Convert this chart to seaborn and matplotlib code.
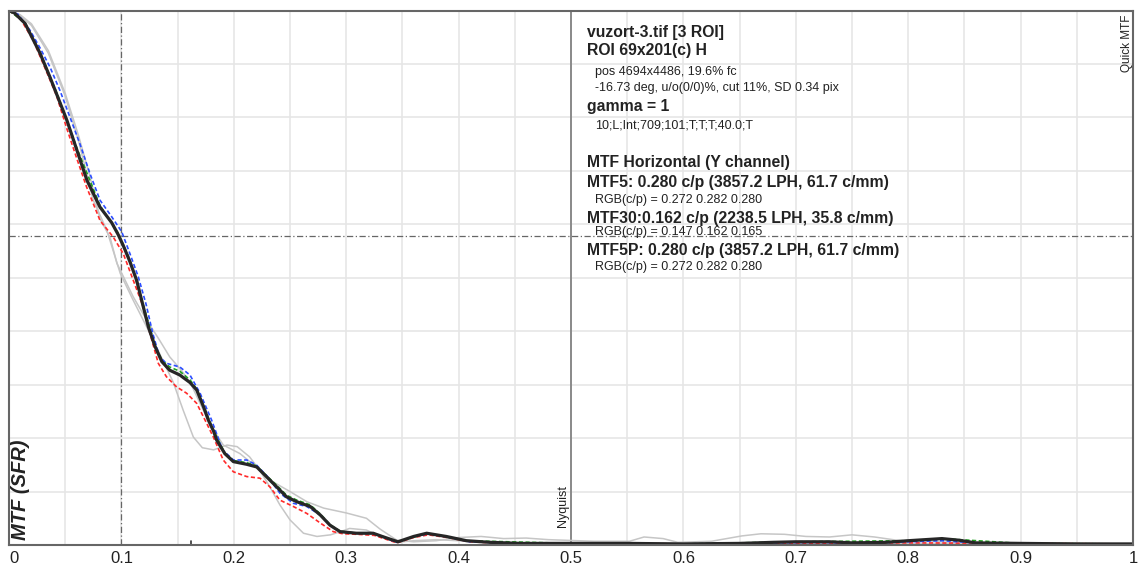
import matplotlib
matplotlib.use("Agg")
import matplotlib.pyplot as plt
from matplotlib.ticker import MultipleLocator
import seaborn as sns

# ---- measured MTF curves (frequency in cycles/pixel) ----
freq_y = [0, 0.005, 0.0142, 0.0276, 0.0365, 0.0436, 0.0516, 0.0605, 0.0694, 0.081, 0.0914,
          0.0973, 0.1017, 0.1076, 0.1136, 0.118, 0.124, 0.130, 0.136, 0.143, 0.152, 0.161,
          0.167, 0.173, 0.1773, 0.182, 0.1848, 0.192, 0.1996, 0.2115, 0.2204, 0.229, 0.238,
          0.247, 0.256, 0.268, 0.277, 0.2856, 0.2945, 0.309, 0.324, 0.332, 0.346, 0.360,
          0.3716, 0.389, 0.407, 0.428, 0.455, 0.5, 0.55, 0.6, 0.65, 0.68, 0.70, 0.73, 0.75,
          0.78, 0.80, 0.815, 0.83, 0.845, 0.86, 0.9, 0.95, 1.0]
mtf_y = [1.0, 0.995, 0.976, 0.920, 0.875, 0.837, 0.794, 0.738, 0.682, 0.632, 0.603,
         0.580, 0.560, 0.530, 0.495, 0.458, 0.408, 0.371, 0.343, 0.327, 0.318, 0.304,
         0.290, 0.259, 0.234, 0.213, 0.196, 0.171, 0.156, 0.151, 0.146, 0.128, 0.109,
         0.090, 0.081, 0.072, 0.056, 0.037, 0.025, 0.022, 0.022, 0.016, 0.006, 0.016,
         0.022, 0.016, 0.008, 0.005, 0.003, 0.003, 0.003, 0.002, 0.003, 0.005, 0.006, 0.006, 0.004,
         0.005, 0.008, 0.010, 0.012, 0.009, 0.004, 0.003, 0.002, 0.002]

freq_r = [0, 0.01, 0.0216, 0.0335, 0.0424, 0.0513, 0.060, 0.069, 0.081, 0.0928, 0.1017,
          0.1106, 0.1195, 0.1254, 0.1328, 0.140, 0.149, 0.158, 0.167, 0.176, 0.1818, 0.1906,
          0.1996, 0.2115, 0.2233, 0.232, 0.241, 0.253, 0.265, 0.277, 0.2885, 0.297, 0.31,
          0.325, 0.345, 0.36, 0.373, 0.39, 0.41, 0.43, 0.46, 0.5, 0.55, 0.6, 0.7, 0.8, 0.9, 1.0]
mtf_r = [1.0, 0.985, 0.944, 0.885, 0.84, 0.78, 0.725, 0.67, 0.607, 0.576, 0.545,
         0.495, 0.445, 0.396, 0.340, 0.315, 0.296, 0.284, 0.265, 0.227, 0.202, 0.159,
         0.137, 0.128, 0.125, 0.109, 0.084, 0.072, 0.059, 0.041, 0.025, 0.021, 0.020,
         0.018, 0.004, 0.014, 0.019, 0.014, 0.006, 0.004, 0.003, 0.004, 0.003, 0.002, 0.003,
         0.004, 0.003, 0.002]

freq_g = [0, 0.0142, 0.0276, 0.0436, 0.0605, 0.081, 0.0973, 0.1076, 0.118, 0.130, 0.136,
          0.143, 0.152, 0.161, 0.167, 0.173, 0.182, 0.192, 0.1996, 0.2115, 0.2204, 0.229,
          0.238, 0.247, 0.256, 0.268, 0.277, 0.2856, 0.2945, 0.309, 0.324, 0.346, 0.3716,
          0.407, 0.5, 0.6, 0.7, 0.8, 0.83, 0.9, 1.0]
mtf_g = [1.0, 0.977, 0.922, 0.840, 0.742, 0.635, 0.583, 0.533, 0.460, 0.373, 0.346,
         0.333, 0.325, 0.309, 0.292, 0.261, 0.214, 0.172, 0.158, 0.154, 0.148, 0.130,
         0.112, 0.093, 0.084, 0.075, 0.058, 0.038, 0.026, 0.022, 0.022, 0.006, 0.022,
         0.008, 0.003, 0.002, 0.006, 0.008, 0.012, 0.003, 0.002]

freq_b = [0, 0.008, 0.0187, 0.0276, 0.0365, 0.0454, 0.0543, 0.063, 0.072, 0.081, 0.0914,
          0.1003, 0.1076, 0.115, 0.122, 0.128, 0.134, 0.140, 0.152, 0.161, 0.170, 0.18, 0.19,
          0.1996, 0.2115, 0.220, 0.23, 0.241, 0.253, 0.265, 0.277, 0.2856, 0.2945, 0.31,
          0.324, 0.345, 0.36, 0.373, 0.39, 0.41, 0.44, 0.47, 0.5, 0.55, 0.6, 0.68, 0.72,
          0.76, 0.8, 0.83, 0.86, 0.9, 1.0]
mtf_b = [1.0, 0.993, 0.963, 0.93, 0.894, 0.850, 0.80, 0.751, 0.695, 0.645, 0.614,
         0.586, 0.545, 0.502, 0.45, 0.395, 0.352, 0.340, 0.333, 0.318, 0.284, 0.235, 0.178,
         0.159, 0.159, 0.150, 0.128, 0.097, 0.078, 0.072, 0.056, 0.037, 0.025, 0.022,
         0.022, 0.005, 0.016, 0.021, 0.015, 0.006, 0.004, 0.003, 0.003, 0.002, 0.002, 0.004,
         0.005, 0.003, 0.006, 0.008, 0.004, 0.002, 0.002]

# other ROIs
freq_roi2 = [0, 0.01, 0.02, 0.035, 0.05, 0.062, 0.075, 0.087, 0.099, 0.11, 0.1225, 0.134,
             0.146, 0.155, 0.164, 0.172, 0.182, 0.194, 0.203, 0.214, 0.223, 0.232, 0.241,
             0.25, 0.262, 0.274, 0.286, 0.295, 0.303, 0.318, 0.33, 0.345, 0.36, 0.38, 0.40,
             0.43, 0.46, 0.5, 0.6, 0.7, 0.8, 0.9, 1.0]
mtf_roi2 = [1.0, 0.99, 0.972, 0.92, 0.84, 0.755, 0.645, 0.589, 0.508, 0.46, 0.408, 0.358,
            0.305, 0.252, 0.202, 0.182, 0.178, 0.187, 0.184, 0.165, 0.14, 0.109, 0.075,
            0.047, 0.022, 0.016, 0.019, 0.025, 0.031, 0.028, 0.016, 0.005, 0.008, 0.01, 0.008,
            0.005, 0.004, 0.003, 0.003, 0.004, 0.003, 0.002, 0.002]

freq_roi3 = [0, 0.01, 0.02, 0.035, 0.05, 0.062, 0.072, 0.081, 0.090, 0.096, 0.1106, 0.1225,
             0.134, 0.143, 0.152, 0.161, 0.17, 0.18, 0.1906, 0.2055, 0.22, 0.235, 0.25, 0.265,
             0.28, 0.30, 0.318, 0.33, 0.345, 0.36, 0.38, 0.40, 0.42, 0.44, 0.46, 0.48, 0.52,
             0.552, 0.565, 0.582, 0.595, 0.625, 0.652, 0.669, 0.69, 0.709, 0.73, 0.75, 0.77,
             0.793, 0.817, 0.85, 0.883, 0.94, 1.0]
mtf_roi3 = [1.0, 0.992, 0.975, 0.925, 0.845, 0.765, 0.69, 0.61, 0.575, 0.527, 0.464, 0.421,
            0.383, 0.352, 0.33, 0.305, 0.265, 0.222, 0.187, 0.171, 0.146, 0.118, 0.100, 0.081,
            0.069, 0.06, 0.05, 0.03, 0.009, 0.006, 0.008, 0.014, 0.016, 0.012, 0.013, 0.01,
            0.007, 0.007, 0.015, 0.012, 0.005, 0.007, 0.017, 0.021, 0.020, 0.016, 0.015, 0.019,
            0.015, 0.008, 0.007, 0.004, 0.003, 0.003, 0.002]

x_tick_values = [0, 0.1, 0.2, 0.3, 0.4, 0.5, 0.6, 0.7, 0.8, 0.9, 1.0]
x_tick_labels = ["0", "0.1", "0.2", "0.3", "0.4", "0.5", "0.6", "0.7", "0.8", "0.9", "1"]

nyquist = 0.5
ref_freq = 0.1
mtf_at_ref = 0.578
mtf30_freq = 0.162

info_lines = [
    ("vuzort-3.tif [3 ROI]", True, 32),
    ("ROI 69x201(c) H", True, 50),
    ("pos 4694x4486, 19.6% fc", False, 72),
    ("-16.73 deg, u/o(0/0)%, cut 11%, SD 0.34 pix", False, 88),
    ("gamma = 1", True, 107),
    ("10;L;Int;709;101;T;T;T;40.0;T", False, 125),
    ("MTF Horizontal (Y channel)", True, 163),
    ("MTF5: 0.280 c/p (3857.2 LPH, 61.7 c/mm)", True, 183),
    ("RGB(c/p) = 0.272 0.282 0.280", False, 200),
    ("MTF30:0.162 c/p (2238.5 LPH, 35.8 c/mm)", True, 218),
    ("RGB(c/p) = 0.147 0.162 0.165", False, 232),
    ("MTF5P: 0.280 c/p (3857.2 LPH, 61.7 c/mm)", True, 250),
    ("RGB(c/p) = 0.272 0.282 0.280", False, 267),
]

sns.set_theme(style="whitegrid")
plt.rcParams["font.family"] = ["Liberation Sans", "DejaVu Sans"]

W, H = 1141, 568
fig = plt.figure(figsize=(W / 100, H / 100), dpi=100)
ax_left, ax_bottom, ax_w, ax_h = 9, 23, 1124, 534.5
ax = fig.add_axes([ax_left / W, ax_bottom / H, ax_w / W, ax_h / H])
ax.set_facecolor("white")

def px_to_y(py):
    return (H - ax_bottom - py) / ax_h

# curves
for fx, my in [(freq_roi2, mtf_roi2), (freq_roi3, mtf_roi3)]:
    sns.lineplot(x=fx, y=my, ax=ax, color="#c6c6c6", linewidth=1.1, estimator=None, sort=False)
sns.lineplot(x=freq_r, y=mtf_r, ax=ax, color="#ff2a2a", linewidth=1.2,
             linestyle=(0, (2.5, 1.5)), estimator=None, sort=False)
sns.lineplot(x=freq_g, y=mtf_g, ax=ax, color="#1fa31f", linewidth=1.2,
             linestyle=(0, (2.5, 1.5)), estimator=None, sort=False)
sns.lineplot(x=freq_b, y=mtf_b, ax=ax, color="#2b4dff", linewidth=1.2,
             linestyle=(0, (2.5, 1.5)), estimator=None, sort=False)
sns.lineplot(x=freq_y, y=mtf_y, ax=ax, color="#262626", linewidth=2.3,
             estimator=None, sort=False)

# reference lines
ax.axvline(nyquist, color="#7a7a7a", linewidth=1.2, zorder=1.5)
ax.axvline(ref_freq, color="#666666", linewidth=0.9, linestyle=(0, (5, 2, 1, 2)), zorder=1.5)
ax.axhline(mtf_at_ref, color="#666666", linewidth=0.9, linestyle=(0, (5, 2, 1, 2)), zorder=1.5)
ax.axvline(mtf30_freq, ymin=0, ymax=0.008, color="#333333", linewidth=1.2)

ax.set_xlim(0, 1)
ax.set_ylim(0, 1)
ax.xaxis.set_major_locator(MultipleLocator(0.1))
ax.xaxis.set_minor_locator(MultipleLocator(0.05))
ax.yaxis.set_major_locator(MultipleLocator(0.1))
ax.set_xticks(x_tick_values)
ax.set_xticklabels(x_tick_labels)
ax.get_xticklabels()[0].set_horizontalalignment("left")
ax.grid(which="both", color="#e6e6e6", linewidth=1.2)
ax.set_axisbelow(True)
ax.tick_params(axis="x", which="both", length=0, pad=4.5, labelsize=12, labelcolor="#222222")
ax.tick_params(axis="y", which="both", length=0, labelleft=False)
ax.set_xlabel("")
ax.set_ylabel("")
for sp in ax.spines.values():
    sp.set_visible(True)
    sp.set_color("#666666")
    sp.set_linewidth(1.5)

# annotations
ax.text(0.0105, px_to_y(490), "MTF (SFR)", rotation=90, ha="center", va="center",
        fontsize=14.5, fontweight="bold", fontstyle="italic", color="#222222")
ax.text(nyquist - 0.0075, px_to_y(506), "Nyquist", rotation=90, ha="center", va="center",
        fontsize=9, color="#222222")
ax.text(0.9948, px_to_y(14), "Quick MTF", rotation=90, ha="center", va="top",
        fontsize=8.5, color="#222222")

for text, bold, py in info_lines:
    x0 = (587 - ax_left) / ax_w if bold else (595 - ax_left) / ax_w
    ax.text(x0, px_to_y(py), text, ha="left", va="center",
            fontsize=11.3 if bold else 9, fontweight="bold" if bold else "normal",
            color="#222222")

fig.savefig("out.png", dpi=100, facecolor="white")
